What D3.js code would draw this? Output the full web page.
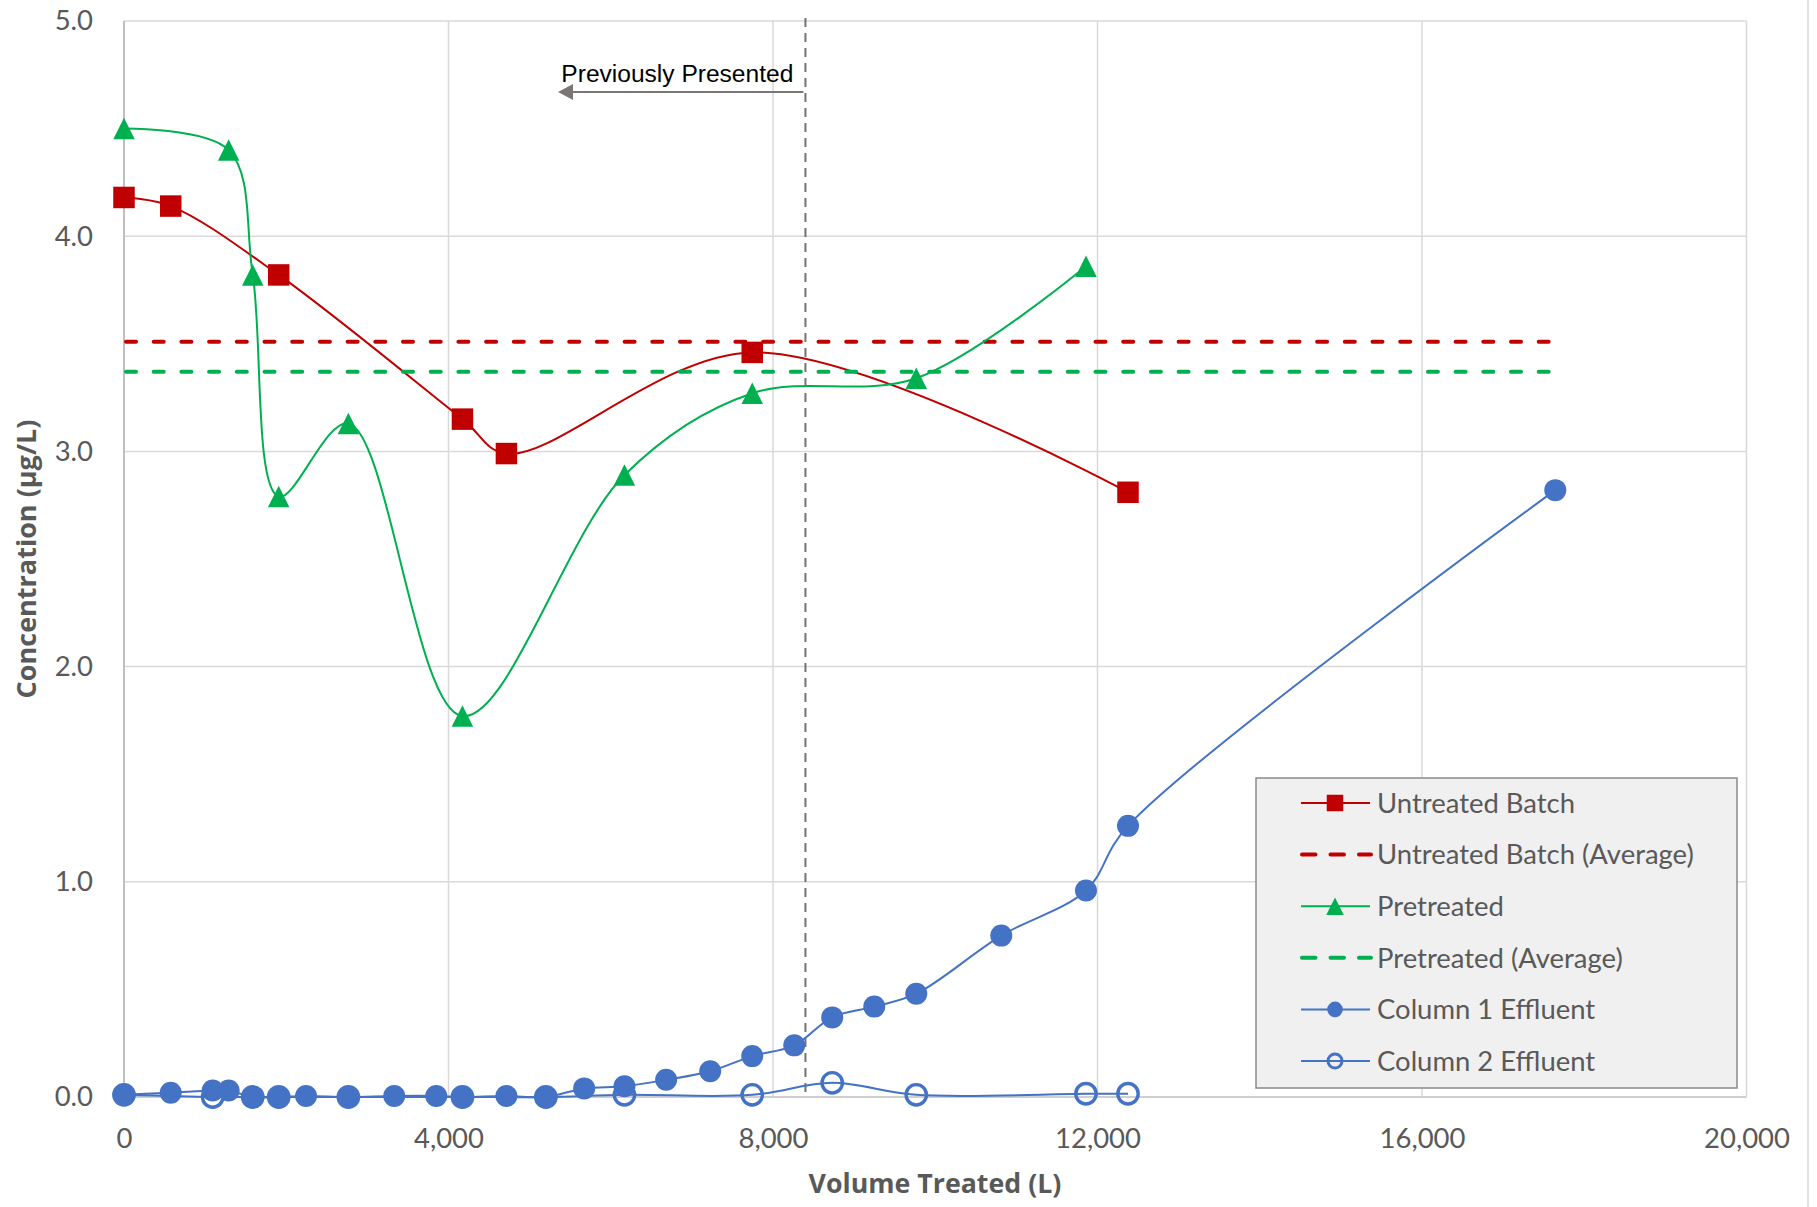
<!DOCTYPE html>
<html><head><meta charset="utf-8">
<script src="https://cdn.jsdelivr.net/npm/d3@7"></script>
<style>body{margin:0;background:#fff} svg{display:block}</style>
</head><body>
<svg id="c" width="1817" height="1207"></svg>
<script>
// ---------- data ----------
const untreatedX = [0, 576, 1907, 4172, 4714, 7744, 12376];
const untreatedY = [4.18, 4.14, 3.82, 3.15, 2.99, 3.46, 2.81];

const pretreatedX = [0, 1290, 1587, 1907, 2766, 4172, 6169, 7744, 9766, 11858];
const pretreatedY = [4.50, 4.40, 3.82, 2.79, 3.13, 1.77, 2.89, 3.27, 3.34, 3.86];

const avgX = [0, 17643];
const untreatedAvg = 3.51;
const pretreatedAvg = 3.37;

const col1X = [0, 576, 1093, 1290, 1587, 1907, 2244, 2766, 3331, 3849, 4172, 4714, 5200, 5672, 6169, 6683, 7226, 7744, 8262, 8730, 9248, 9766, 10814, 11858, 12376, 17643];
const col1Y = [0.01, 0.02, 0.03, 0.03, 0.0, 0.0, 0.005, 0.0, 0.005, 0.005, 0.0, 0.005, 0.0, 0.04, 0.05, 0.08, 0.12, 0.19, 0.24, 0.37, 0.42, 0.48, 0.75, 0.96, 1.26, 2.82];

const col2X = [0, 1093, 1587, 1907, 2766, 4172, 5200, 6169, 7744, 8730, 9766, 11858, 12376];
const col2Y = [0.01, 0.0, 0.0, 0.0, 0.0, 0.0, 0.0, 0.01, 0.01, 0.066, 0.01, 0.015, 0.015];

const xTicks = [0, 4000, 8000, 12000, 16000, 20000];
const yTicks = [0, 1, 2, 3, 4, 5];

const cutoffX = 8400;
const annotationText = "Previously Presented";
const arrowEndX = 5350, arrowY = 4.67, annotTextEndX = 8250, annotTextY = 4.715;

const xTitle = "Volume Treated (L)";
const yTitle = "Concentration (µg/L)";

const legendLabels = ["Untreated Batch", "Untreated Batch (Average)", "Pretreated", "Pretreated (Average)", "Column 1 Effluent", "Column 2 Effluent"];

// ---------- setup ----------
const RED = "#C00000", GREEN = "#00B050", BLUE = "#4472C4", GRID = "#d9d9d9", TXT = "#595959";
const svg = d3.select("#c");
const x = d3.scaleLinear().domain([0, 20000]).range([124, 1746.5]);
const y = d3.scaleLinear().domain([0, 5]).range([1097, 21]);

function fit(sel, target) {
  const w = sel.node().getComputedTextLength();
  const fs = parseFloat(sel.attr("font-size"));
  sel.attr("font-size", fs * target / w);
  return fs * target / w;
}

// outer chart border (right edge visible)
svg.append("line").attr("x1", 1808).attr("x2", 1808).attr("y1", 0).attr("y2", 1207)
  .attr("stroke", GRID).attr("stroke-width", 1.5);

// gridlines
svg.append("g").selectAll("line").data(xTicks.slice(1)).join("line")
  .attr("x1", d => x(d)).attr("x2", d => x(d)).attr("y1", y(5)).attr("y2", y(0))
  .attr("stroke", GRID).attr("stroke-width", 1.5);
svg.append("g").selectAll("line").data(yTicks.slice(1)).join("line")
  .attr("x1", x(0)).attr("x2", x(20000)).attr("y1", d => y(d)).attr("y2", d => y(d))
  .attr("stroke", GRID).attr("stroke-width", 1.5);
// axis lines
svg.append("line").attr("x1", x(0)).attr("x2", x(0)).attr("y1", y(5)).attr("y2", y(0))
  .attr("stroke", "#bfbfbf").attr("stroke-width", 2);
svg.append("line").attr("x1", x(0)).attr("x2", x(20000)).attr("y1", y(0)).attr("y2", y(0))
  .attr("stroke", "#cfcfcf").attr("stroke-width", 2);

// axes (labels)
const xAxis = svg.append("g").attr("transform", `translate(0,${y(0)})`)
  .call(d3.axisBottom(x).tickValues(xTicks).tickFormat(d3.format(",")).tickSize(0).tickPadding(31));
const yAxis = svg.append("g").attr("transform", `translate(${x(0)},0)`)
  .call(d3.axisLeft(y).tickValues(yTicks).tickFormat(d3.format(".1f")).tickSize(0).tickPadding(31));
[xAxis, yAxis].forEach(a => {
  a.select(".domain").remove();
  a.selectAll("text").attr("font-family", "Lato, sans-serif").attr("fill", TXT).attr("font-size", 27);
});
{
  const t = xAxis.selectAll("text").filter(d => d === 20000);
  const fs = fit(t, 86);
  xAxis.selectAll("text").attr("font-size", fs);
  yAxis.selectAll("text").attr("font-size", fs);
}

// axis titles
const xt = svg.append("text").text(xTitle).attr("x", 935).attr("y", 1193)
  .attr("text-anchor", "middle").attr("font-family", "'Open Sans', sans-serif").attr("font-weight", "bold")
  .attr("font-size", 26).attr("fill", TXT);
fit(xt, 253);
const yt = svg.append("text").text(yTitle).attr("transform", "translate(36,559) rotate(-90)")
  .attr("text-anchor", "middle").attr("font-family", "'Open Sans', sans-serif").attr("font-weight", "bold")
  .attr("font-size", 26).attr("fill", TXT);
fit(yt, 279);

// cutoff line + annotation
svg.append("line").attr("x1", x(cutoffX)).attr("x2", x(cutoffX)).attr("y1", y(5) - 3).attr("y2", y(0))
  .attr("stroke", "#767171").attr("stroke-width", 2).attr("stroke-dasharray", "9,6");
svg.append("line").attr("x1", x(cutoffX) - 2).attr("x2", x(arrowEndX) + 14).attr("y1", y(arrowY)).attr("y2", y(arrowY))
  .attr("stroke", "#7a7676").attr("stroke-width", 2);
svg.append("path")
  .attr("d", `M${x(arrowEndX)},${y(arrowY)} L${x(arrowEndX) + 15},${y(arrowY) - 8} L${x(arrowEndX) + 15},${y(arrowY) + 8} Z`)
  .attr("fill", "#7a7676");
const at = svg.append("text").text(annotationText).attr("x", x(annotTextEndX)).attr("y", y(annotTextY))
  .attr("text-anchor", "end").attr("font-family", "'Liberation Sans', Arial, sans-serif")
  .attr("font-size", 24).attr("fill", "#000");
fit(at, 232);

// series helpers
const curve = d3.curveCatmullRom.alpha(0.5);
const lineGen = d3.line().x(d => x(d[0])).y(d => y(d[1])).curve(curve);
const zip = (xs, ys) => xs.map((v, i) => [v, ys[i]]);

const triType = { draw(ctx, size) { const s = Math.sqrt(size); ctx.moveTo(0, -s / 2); ctx.lineTo(s / 2, s / 2); ctx.lineTo(-s / 2, s / 2); ctx.closePath(); } };

function drawSeries(pts, color, markerFn) {
  const g = svg.append("g");
  g.append("path").attr("d", lineGen(pts)).attr("fill", "none").attr("stroke", color).attr("stroke-width", 2);
  markerFn(g.selectAll(".m").data(pts).join("g").attr("class", "m")
    .attr("transform", d => `translate(${x(d[0])},${y(d[1])})`));
}
function drawAvg(val, color) {
  svg.append("path").attr("d", d3.line().x(d => x(d)).y(() => y(val))(avgX))
    .attr("fill", "none").attr("stroke", color).attr("stroke-width", 4)
    .attr("stroke-dasharray", "10,17.7").attr("stroke-linecap", "round")
    .attr("transform", "translate(2,0)");
}

drawSeries(zip(untreatedX, untreatedY), RED, s => s.append("path").attr("d", d3.symbol(d3.symbolSquare, 21.5 * 21.5)).attr("fill", RED));
drawAvg(untreatedAvg, RED);
drawSeries(zip(pretreatedX, pretreatedY), GREEN, s => s.append("path").attr("d", d3.symbol(triType, 21.5 * 21.5)).attr("fill", GREEN));
drawAvg(pretreatedAvg, GREEN);
drawSeries(zip(col1X, col1Y), BLUE, s => s.append("circle").attr("r", 11).attr("fill", BLUE));
drawSeries(zip(col2X, col2Y), BLUE, s => s.append("circle").attr("r", 10.2).attr("fill", "none").attr("stroke", BLUE).attr("stroke-width", 3.4));

// legend
const lg = svg.append("g");
lg.append("rect").attr("x", 1256).attr("y", 778).attr("width", 481).attr("height", 310)
  .attr("fill", "#f0f0f0").attr("stroke", "#8a8a8a").attr("stroke-width", 1.5);
const rowY = i => 803 + i * 51.6;
const lx1 = 1301, lx2 = 1370, lmx = 1335;
const legendStyles = [
  { color: RED, dash: false, marker: g => g.append("path").attr("d", d3.symbol(d3.symbolSquare, 16.5 * 16.5)).attr("fill", RED) },
  { color: RED, dash: true },
  { color: GREEN, dash: false, marker: g => g.append("path").attr("d", d3.symbol(triType, 17.5 * 17.5)).attr("fill", GREEN) },
  { color: GREEN, dash: true },
  { color: BLUE, dash: false, marker: g => g.append("circle").attr("r", 7.8).attr("fill", BLUE) },
  { color: BLUE, dash: false, marker: g => g.append("circle").attr("r", 7).attr("fill", "none").attr("stroke", BLUE).attr("stroke-width", 3) }
];
legendLabels.forEach((lab, i) => {
  const st = legendStyles[i];
  const g = lg.append("g");
  if (st.dash) {
    g.append("line").attr("x1", lx1).attr("x2", lx2).attr("y1", rowY(i)).attr("y2", rowY(i))
      .attr("stroke", st.color).attr("stroke-width", 4).attr("stroke-dasharray", "13.5,15").attr("stroke-linecap", "round")
      .attr("transform", "translate(1,0)");
  } else {
    g.append("line").attr("x1", lx1).attr("x2", lx2).attr("y1", rowY(i)).attr("y2", rowY(i))
      .attr("stroke", st.color).attr("stroke-width", 2);
    st.marker(g.append("g").attr("transform", `translate(${lmx},${rowY(i)})`));
  }
});
const ltexts = lg.selectAll(".lt").data(legendLabels).join("text").attr("class", "lt")
  .attr("x", 1377).attr("y", (d, i) => rowY(i)).attr("dy", "0.36em")
  .attr("font-family", "Lato, sans-serif").attr("font-size", 27).attr("fill", TXT).text(d => d);
{
  const t = ltexts.filter(d => d === "Untreated Batch (Average)");
  const fs = fit(t, 317);
  ltexts.attr("font-size", fs);
}
</script>
</body></html>
